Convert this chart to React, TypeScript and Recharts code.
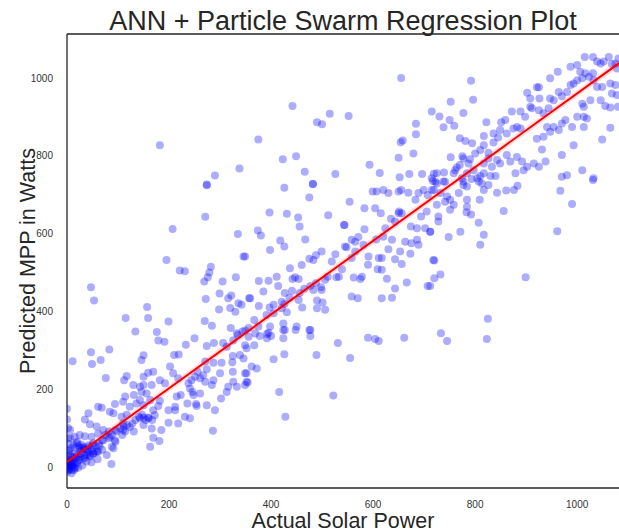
import { ReferenceLine, Scatter, ScatterChart, XAxis, YAxis } from "recharts";

const nearOrigin: [number, number][] = [
  [0, 0], [3, 5], [5, -6], [8, 10], [10, 2], [12, 16], [2, 20], [15, 0], [18, 24], [20, 10],
  [6, 30], [25, 18], [28, 34], [30, 4], [1, -12], [4, 42], [35, 24], [40, 44], [45, 30], [50, 56],
  [9, -16], [14, -8], [22, -2], [0, 12], [1, 28], [3, 60], [0, 150], [2, 100], [0, 122], [6, 75],
  [16, 50], [55, 40], [60, 20], [48, 12], [33, 48],
  [3, 1], [10, 5], [16, 9], [7, 18], [13, 25], [20, 31], [26, 40], [29, 48], [23, 54], [36, 44],
  [42, 51], [49, 45], [56, 54], [62, 59], [52, 35], [39, 31], [33, 22], [46, 27], [59, 40], [69, 44],
  [16, -3], [3, -8], [10, -8], [0, 10], [23, 18], [28, 57], [20, 65], [13, 57], [7, 48],
];

const lowRange: [number, number][] = [
  [69, 69], [75, 82], [82, 74], [88, 82], [95, 65], [88, 52], [82, 91], [95, 95], [105, 99], [111, 104],
  [118, 108], [114, 91], [128, 112], [134, 121], [141, 129], [147, 134], [154, 121], [160, 125], [167, 121],
  [150, 108], [108, 82], [131, 91],
  [83, 302], [47, 295], [11, 272], [49, 265], [66, 275], [76, 229], [150, 287], [146, 275], [179, 325],
  [191, 322], [210, 288], [219, 289], [233, 314], [250, 331], [274, 311], [288, 319], [306, 319], [313, 309],
  [325, 285], [339, 288], [346, 279], [352, 305], [326, 326], [335, 339], [344, 348], [271, 271], [287, 268],
  [303, 268], [324, 269], [300, 241], [325, 245], [349, 241], [352, 219], [274, 251], [267, 236], [256, 245],
  [251, 232], [261, 228], [244, 223], [238, 215], [246, 193], [248, 185], [236, 163], [254, 157], [212, 155],
  [212, 146], [199, 146], [199, 114], [286, 93], [287, 223], [271, 219], [202, 258], [208, 241], [218, 228],
  [182, 223], [192, 215], [169, 245], [159, 242], [150, 232], [166, 211], [150, 211], [143, 206], [130, 211],
  [112, 223], [117, 234], [146, 193], [131, 185], [114, 181], [110, 168], [123, 155], [136, 163], [150, 159],
  [169, 146], [179, 157], [163, 172], [143, 125], [150, 127], [159, 127], [172, 133], [117, 134], [107, 129],
  [91, 138], [84, 142], [68, 152], [61, 155], [94, 162], [42, 138], [35, 122], [45, 110], [58, 104],
  [71, 95], [61, 86], [48, 78], [35, 79], [25, 82], [15, 78], [6, 95], [2, 73], [19, 61], [25, 48],
  [32, 52], [42, 56], [51, 61], [64, 54], [71, 69], [84, 78], [94, 69], [110, 95], [97, 91], [110, 112],
  [123, 103], [91, 48], [78, 31], [87, 8], [2, 43], [9, 26], [15, 35], [6, 13], [12, 9], [-1, 5],
  [2, -4], [25, 26], [35, 31], [42, 39], [51, 35], [61, 39], [38, 14], [163, 52], [169, 75], [181, 67],
  [166, 99], [185, 95], [218, 112], [231, 129], [241, 125], [223, 185], [274, 159], [290, 146], [302, 176],
  [253, 162], [313, 193], [316, 206], [333, 206], [349, 211], [326, 219], [284, 211], [241, 202], [261, 189],
  [215, 181], [182, 170], [156, 189], [143, 172],
  [356, 335], [369, 343], [378, 337], [392, 342], [400, 337], [392, 331], [424, 352], [424, 331], [448, 352],
  [477, 337], [477, 352], [367, 313], [349, 313], [405, 277], [426, 290], [489, 288], [531, 319], [555, 280],
  [590, 332], [604, 329], [611, 324], [661, 332], [362, 258], [372, 253], [352, 241], [354, 217], [416, 193],
  [522, 184], [428, 129],
];

const midRange: [number, number][] = [
  [426, 718], [482, 727], [475, 693], [397, 654], [431, 651], [453, 641], [456, 618], [512, 647], [374, 608],
  [380, 595], [418, 582], [426, 567], [398, 558], [467, 585], [349, 541], [554, 682], [583, 665], [544, 622],
  [604, 665], [615, 652], [599, 708], [607, 708], [620, 712], [630, 704], [650, 708], [655, 712], [669, 705],
  [683, 687], [689, 704], [699, 712], [707, 699], [715, 712], [651, 657], [656, 652], [635, 638], [643, 631],
  [624, 614], [583, 611], [620, 592], [606, 585], [637, 584], [630, 560], [617, 537], [643, 534], [663, 579],
  [674, 618], [686, 614], [686, 584], [689, 571], [702, 614], [712, 605], [653, 554], [673, 548], [718, 532],
  [656, 522], [666, 474], [707, 465], [617, 507], [627, 484], [643, 459], [637, 435], [617, 434], [565, 579],
  [558, 584], [545, 567], [565, 554], [591, 541], [581, 571], [571, 591], [611, 537], [609, 508], [578, 489],
  [575, 483], [562, 487], [590, 520], [548, 565], [558, 537], [533, 489], [528, 488], [539, 508], [519, 528],
  [511, 489], [506, 481], [498, 462], [488, 472], [499, 455], [499, 554], [488, 544], [483, 532], [475, 535],
  [460, 519], [437, 511], [454, 483], [447, 488], [442, 483], [411, 489], [414, 465], [395, 479], [376, 478],
  [359, 434], [376, 414], [385, 451], [397, 410], [427, 447], [441, 453], [456, 447], [465, 458], [477, 465],
  [483, 455], [490, 428], [501, 423], [506, 404], [490, 408], [461, 410], [454, 429], [436, 435], [426, 419],
  [421, 425], [421, 408], [405, 417], [431, 398], [405, 395], [391, 391], [367, 378], [375, 361], [398, 361],
  [424, 369], [427, 352], [395, 345], [450, 361], [475, 352], [356, 357], [526, 547], [558, 438], [570, 434],
  [543, 622], [650, 652], [694, 644], [705, 657], [675, 575],
  [274, 724], [271, 643], [207, 612], [335, 599], [195, 532], [346, 541], [221, 505], [231, 503], [282, 515],
  [279, 500], [276, 488], [269, 477], [305, 477], [331, 488], [47, 462], [53, 428], [272, 432], [299, 446],
  [316, 434], [322, 441], [336, 421], [342, 417], [357, 434], [157, 411], [320, 409], [298, 405], [330, 399],
  [115, 383], [159, 383], [199, 374], [270, 375], [284, 363], [134, 348], [176, 347], [321, 357], [333, 344],
  [349, 351],
];

const highRange: [number, number][] = [
  [182, 827], [290, 749], [338, 767], [274, 726],
  [655, 1000], [442, 928], [375, 842], [490, 886], [500, 881], [515, 908], [552, 902], [715, 914], [684, 882],
  [684, 855], [654, 835], [658, 839], [423, 791], [449, 799], [466, 759], [526, 753], [482, 728], [593, 777],
  [613, 756], [650, 795], [679, 806], [652, 745], [671, 753], [696, 753], [719, 754], [717, 735],
  [792, 993], [796, 944], [752, 939], [777, 910], [730, 901], [750, 892], [759, 877], [738, 873], [822, 886],
  [770, 845], [781, 838], [794, 832], [752, 796], [775, 799], [777, 793], [764, 770], [761, 763], [770, 776],
  [758, 755], [725, 755], [739, 757], [715, 742], [722, 733], [741, 733], [774, 742], [784, 755], [793, 740],
  [810, 748], [817, 755],
  [817, 851], [836, 834], [845, 847], [851, 886], [859, 892], [875, 870], [889, 870], [872, 914], [889, 914],
  [902, 962], [908, 947], [921, 976], [926, 947], [911, 922], [925, 917], [934, 909], [944, 922], [947, 947],
  [954, 943], [964, 964], [970, 953], [980, 964], [987, 982], [993, 986], [1000, 994], [1010, 999], [1016, 1012],
  [1023, 1003], [1031, 1012], [1032, 994], [1039, 1042], [1046, 1037], [1052, 1042], [1062, 1054], [1068, 1036],
  [1075, 1037], [1078, 1024], [1081, 1050], [1015, 1054], [1031, 1054], [987, 1029], [1000, 1033], [1006, 1016],
  [962, 1016], [947, 999], [925, 976], [908, 926], [898, 900], [882, 874], [862, 857], [849, 866], [836, 857],
  [817, 827], [810, 815], [800, 806], [790, 791], [787, 780],
  [826, 793], [843, 789], [833, 772], [849, 780], [862, 802], [869, 785], [882, 797], [892, 785], [902, 772],
  [915, 780], [925, 772], [938, 785], [931, 816], [921, 844], [934, 849], [947, 862], [954, 874], [941, 874],
  [964, 866], [970, 883], [977, 892], [990, 874], [1000, 900], [1013, 900], [1019, 896], [1010, 934], [1013, 926],
  [1026, 943], [1046, 943], [1055, 928], [1065, 924], [1068, 960], [1078, 956], [1065, 986], [1075, 982],
  [1039, 977], [1049, 977], [1013, 874], [970, 802], [980, 750], [970, 746], [993, 827], [1010, 763], [1032, 742],
  [1049, 842], [1065, 872], [1080, 926], [895, 763], [879, 755], [840, 748], [830, 748], [804, 742], [797, 763],
  [817, 780], [826, 808],
  [725, 729], [738, 734], [719, 712], [732, 704], [745, 695], [751, 687], [758, 674], [751, 661], [725, 674],
  [728, 644], [728, 631], [741, 682], [768, 704], [777, 725], [784, 721], [777, 734], [807, 734], [813, 729],
  [817, 712], [826, 725], [843, 705], [861, 711], [876, 712], [883, 723], [809, 687], [784, 687], [784, 669],
  [783, 655], [792, 649], [807, 628], [817, 597], [810, 571], [771, 605], [748, 591], [712, 605], [856, 658],
  [967, 710], [990, 676], [961, 606], [1031, 738], [720, 531], [720, 485], [732, 495], [712, 465], [899, 488],
  [825, 381], [733, 344], [745, 324], [823, 329],
];

// fitted regression line endpoints
const fitActual = [0, 1082];
const fitPredicted = [13, 1038];

const xTicks = [0, 200, 400, 600, 800, 1000];
const yTicks = [0, 200, 400, 600, 800, 1000];
const xDomain: [number, number] = [0, 1082];
const yDomain: [number, number] = [-54, 1113];

const points = [...nearOrigin, ...lowRange, ...midRange, ...highRange].map(([x, y]) => ({ x, y }));
const fitLine = fitActual.map((x, i) => ({ x, y: fitPredicted[i] }));

const FONT = '"Liberation Sans", Arial, sans-serif';
const SPINE = "#262626";

const Dot = (props: any) => (
  <circle cx={props.cx} cy={props.cy} r={4} fill="#0000ff" fillOpacity={0.32} />
);

const NoShape = () => <g />;

const YTitle = () => (
  <text
    x={28}
    y={261}
    transform="rotate(-90 28 261)"
    textAnchor="middle"
    dominantBaseline="central"
    fontSize={21.5}
    fill="#262626"
    fontFamily={FONT}
  >
    Predicted MPP in Watts
  </text>
);

const XTitle = () => (
  <text x={343} y={528} textAnchor="middle" fontSize={21.5} fill="#262626" fontFamily={FONT}>
    Actual Solar Power
  </text>
);

export default function App() {
  return (
    <div style={{ position: "absolute", left: 0, top: 0, width: 619, height: 532, background: "#fff" }}>
      <div
        style={{
          position: "absolute",
          left: 67,
          top: 8,
          width: 552,
          textAlign: "center",
          fontFamily: FONT,
          fontSize: 27,
          lineHeight: 1,
          color: "#262626",
        }}
      >
        ANN + Particle Swarm Regression Plot
      </div>
      <ScatterChart width={619} height={532} margin={{ top: 34, right: 0, bottom: 0, left: 20 }}>
        <XAxis
          type="number"
          dataKey="x"
          domain={xDomain}
          ticks={xTicks}
          allowDataOverflow
          height={44}
          tickLine={false}
          tickMargin={7}
          axisLine={{ stroke: SPINE, strokeWidth: 1.3 }}
          tick={{ fontSize: 10, fill: "#333", fontFamily: FONT }}
          label={<XTitle />}
        />
        <YAxis
          type="number"
          dataKey="y"
          domain={yDomain}
          ticks={yTicks}
          allowDataOverflow
          width={47}
          tickLine={false}
          tickMargin={8}
          axisLine={{ stroke: SPINE, strokeWidth: 1.3 }}
          tick={{ fontSize: 10, fill: "#333", fontFamily: FONT }}
          label={<YTitle />}
        />
        <ReferenceLine y={yDomain[1]} stroke={SPINE} strokeWidth={1.3} ifOverflow="visible" />
        <Scatter data={points} shape={Dot} isAnimationActive={false} />
        <Scatter
          data={fitLine}
          shape={NoShape}
          line={{ stroke: "#ff0000", strokeWidth: 6, strokeOpacity: 0.12 }}
          isAnimationActive={false}
        />
        <Scatter
          data={fitLine}
          shape={NoShape}
          line={{ stroke: "#ff0000", strokeWidth: 2 }}
          isAnimationActive={false}
        />
      </ScatterChart>
    </div>
  );
}
